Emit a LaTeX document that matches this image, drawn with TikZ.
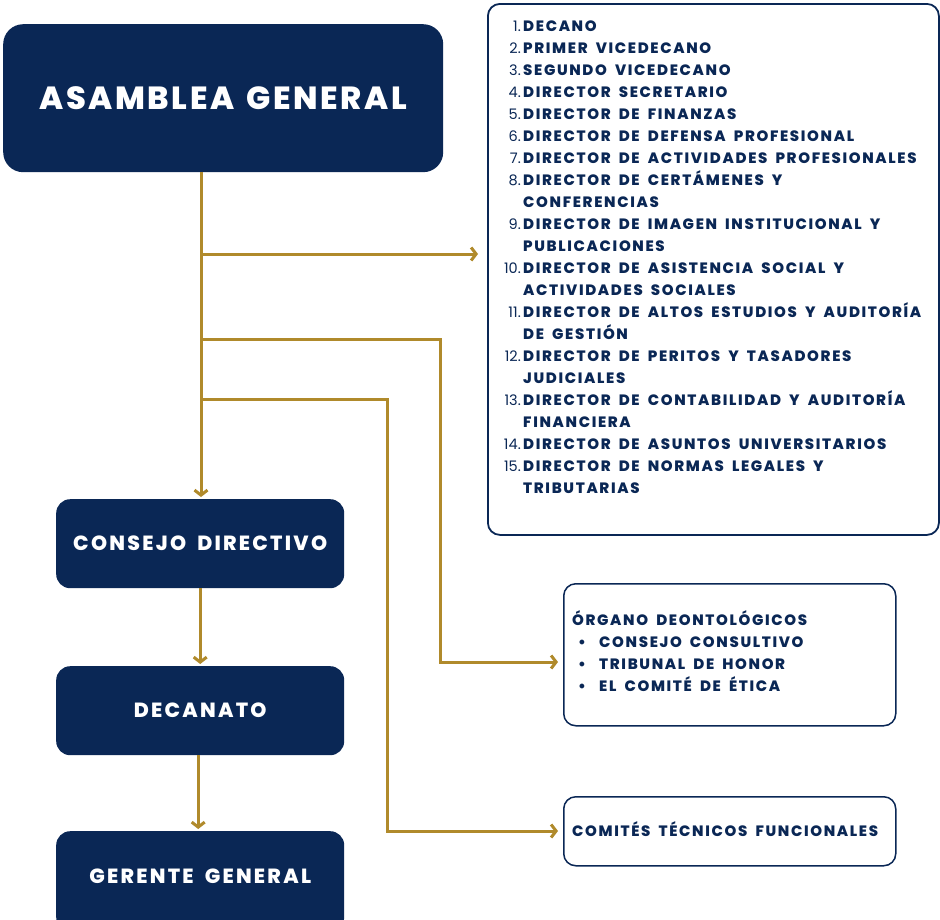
\documentclass[tikz,border=0pt]{standalone}
\usepackage{fontspec}
\setmainfont{Poppins}
\newfontfamily\rotulo{Poppins ExtraBold}[LetterSpace=11]
\newfontfamily\titulo{Poppins ExtraBold}[LetterSpace=8, WordSpace=1.4]
\newfontfamily\lista{Poppins ExtraBold}[LetterSpace=11, WordSpace=1.8]
\usetikzlibrary{positioning, arrows.meta}
\definecolor{azul}{HTML}{0A2755}
\definecolor{dorado}{HTML}{B08A2B}
\tikzset{
	>={Straight Barb[length=5pt, width=13pt]}, % punta abierta de las flechas
	bloque/.style={fill=azul, text=white, rounded corners=14pt, minimum width=288pt, minimum height=89pt, inner sep=0pt,
		font=\fontsize{20.5}{24}\selectfont\rotulo}, % cajas azules
	caja/.style={draw=azul, line width=1.8pt, fill=white, rounded corners=12pt, inner sep=0pt}, % cajas blancas
	flecha/.style={draw=dorado, line width=3pt, ->}, % conectores dorados
	item/.style={text=azul, inner sep=0pt, font=\fontsize{15}{22}\selectfont\lista},
	numero/.style={text=azul, inner sep=0pt, font=\fontsize{14.5}{22}\selectfont}
}

\begin{document}
\begin{tikzpicture}[x=1pt, y=-1pt]
	\clip (0,0) rectangle (940,919);
	\fill[white] (0,0) rectangle (940,919);

	\node[bloque, anchor=north west, minimum width=440pt, minimum height=148pt, rounded corners=20pt,
		font=\fontsize{32}{36}\selectfont\titulo] (asamblea) at (3,24) {ASAMBLEA GENERAL};
	\node[bloque, anchor=north west] (consejo) at (56,499) {CONSEJO DIRECTIVO};
	\node[bloque, anchor=north west] (decanato) at (56,666) {DECANATO};
	\node[bloque, anchor=north west, minimum height=100pt, text depth=11pt] (gerente) at (56,831) {GERENTE GENERAL};

	\node[caja, anchor=north west, minimum width=451pt, minimum height=531pt] (lista) at (487,3) {};
	\foreach \i/\num/\txt in {1/1./DECANO, 2/2./PRIMER VICEDECANO, 3/3./SEGUNDO VICEDECANO,
		4/4./DIRECTOR SECRETARIO, 5/5./DIRECTOR DE FINANZAS, 6/6./DIRECTOR DE DEFENSA PROFESIONAL,
		7/7./DIRECTOR DE ACTIVIDADES PROFESIONALES, 8/8./DIRECTOR DE CERTÁMENES Y, 9//CONFERENCIAS,
		10/9./DIRECTOR DE IMAGEN INSTITUCIONAL Y, 11//PUBLICACIONES,
		12/10./DIRECTOR DE ASISTENCIA SOCIAL Y, 13//ACTIVIDADES SOCIALES,
		14/11./DIRECTOR DE ALTOS ESTUDIOS Y AUDITORÍA, 15//DE GESTIÓN,
		16/12./DIRECTOR DE PERITOS Y TASADORES, 17//JUDICIALES,
		18/13./DIRECTOR DE CONTABILIDAD Y AUDITORÍA, 19//FINANCIERA,
		20/14./DIRECTOR DE ASUNTOS UNIVERSITARIOS, 21/15./DIRECTOR DE NORMAS LEGALES Y, 22//TRIBUTARIAS}
	{
		\node[numero, anchor=base east] (num\i) at (521,{9.7+22*\i}) {\num};
		\node[item, anchor=base west] (dir\i) at (523,{9.7+22*\i}) {\txt};
	}

	\node[caja, anchor=north west, minimum width=332pt, minimum height=142pt, line width=1.5pt] (organo) at (563,583) {};
	\node[item, anchor=base west] (organotit) at (572,625) {ÓRGANO DEONTOLÓGICOS};
	\foreach \i/\txt in {1/CONSEJO CONSULTIVO, 2/TRIBUNAL DE HONOR, 3/EL COMITÉ DE ÉTICA}
	{
		\node[item, anchor=base] (punto\i) at (582,{625+22*\i}) {\textbullet};
		\node[item, anchor=base west] (organo\i) at (599,{625+22*\i}) {\txt};
	}

	\node[caja, anchor=north west, minimum width=332pt, minimum height=69pt, line width=1.5pt] (comites) at (563,796) {};
	\node[item, anchor=base west] (comitestit) at (572,836) {COMITÉS TÉCNICOS FUNCIONALES};

	\coordinate (b1) at (201,254);
	\coordinate (b2) at (201,339);
	\coordinate (b3) at (201,399);
	\coordinate (c2) at (440,662);
	\coordinate (c3) at (387,831);

	\draw[flecha, shorten >=2pt] (asamblea.south -| b1) -- (consejo.north -| b1);
	\draw[flecha, shorten >=9pt] (b1) -- (b1 -| lista.west);
	\draw[flecha, shorten >=5pt] (b2) -| (c2) -- (c2 -| organo.west);
	\draw[flecha, shorten >=5pt] (b3) -| (c3) -- (c3 -| comites.west);
	\draw[flecha, shorten >=2pt] (consejo.south) -- (decanato.north);
	\draw[flecha, shorten >=2pt] ([xshift=-2pt]decanato.south) -- ([xshift=-2pt]gerente.north);
\end{tikzpicture}
\end{document}
